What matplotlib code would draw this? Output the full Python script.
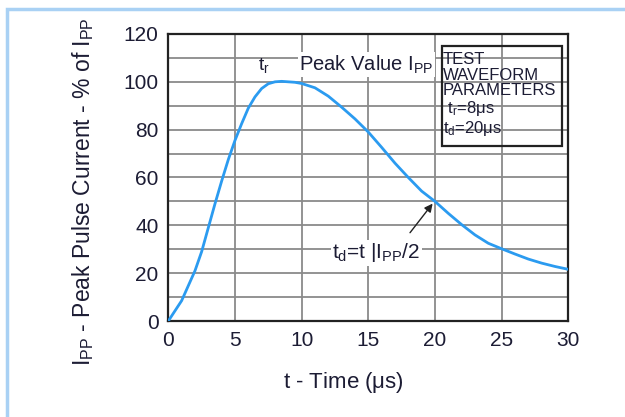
import matplotlib.pyplot as plt
from matplotlib.patches import Rectangle

c_line = '#2b9bf0'
c_txt = '#1c1c34'
c_grid = '#8a8a8a'
c_frame = '#a9d1f4'

plt.rcParams.update({
    'font.family': ['Liberation Sans', 'DejaVu Sans'],
    'mathtext.fontset': 'custom',
    'mathtext.rm': 'Liberation Sans',
    'mathtext.it': 'Liberation Sans',
})

# waveform (t in us, % of Ipp)
t_us = [0, 1, 2, 2.5, 3, 3.5, 4, 4.5, 5, 5.5, 6, 6.5, 7, 7.5, 8, 8.5, 9, 9.5,
        10, 11, 12, 13, 14, 15, 16, 17, 18, 19, 20, 21, 22, 23, 24, 25, 26,
        27, 28, 29, 30]
ipp_pct = [0, 8.5, 21, 29, 39, 49, 58.5, 67.5, 75.5, 82.5, 89, 93.7, 97.2, 99.2,
           100, 100.2, 100, 99.8, 99.3, 97.5, 94, 89.4, 84.5, 79, 72.6, 66, 60,
           54.3, 50, 45, 40.3, 36, 32.5, 30.2, 28, 25.9, 24.2, 22.8, 21.6]

x_ticks = [0, 5, 10, 15, 20, 25, 30]
y_ticks = [0, 20, 40, 60, 80, 100, 120]

fig = plt.figure(figsize=(6.25, 4.17), dpi=100)
fig.patches.append(Rectangle((0.011, -0.1), 1.2, 1.078, transform=fig.transFigure,
                             fill=False, edgecolor=c_frame, lw=2.5))

ax = fig.add_axes([0.2693, 0.2302, 0.640, 0.6883])
ax.set_xlim(0, 30)
ax.set_ylim(0, 120)
ax.set_xticks(x_ticks)
ax.set_yticks(y_ticks)
ax.set_xticks(range(0, 31, 5), minor=True)
ax.set_yticks(range(0, 121, 10), minor=True)
ax.grid(True, which='both', color=c_grid, lw=1.3)
ax.set_axisbelow(True)
for s in ax.spines.values():
    s.set_linewidth(1.6)
    s.set_color('#222222')
ax.tick_params(which='both', length=0, pad=7, labelsize=15, labelcolor=c_txt)

ax.plot(t_us, ipp_pct, color=c_line, lw=2, zorder=3)

ax.set_xlabel(r't - Time ($\mathregular{\mu}$s)', fontsize=16, color=c_txt)
ax.xaxis.set_label_coords(0.4375, -0.17)
ax.set_ylabel(r'$\mathregular{I_{PP}}$ - Peak Pulse Current - % of $\mathregular{I_{PP}}$',
              fontsize=16.5, color=c_txt)
ax.yaxis.set_label_coords(-0.18, 0.45)

ax.text(7.2, 103, r'$\mathregular{t_r}$', fontsize=14, color=c_txt, ha='center', va='bottom')
ax.text(9.8, 102.5, r'Peak Value $\mathregular{I_{PP}}$', fontsize=14.5, color=c_txt,
        ha='left', va='bottom', zorder=4,
        bbox=dict(facecolor='white', edgecolor='none', pad=1))

ax.text(20.6, 112.5, 'TEST\nWAVEFORM\nPARAMETERS\n' r' $\mathregular{t_r}$=8$\mathregular{\mu}$s' '\n'
        r'$\mathregular{t_d}$=20$\mathregular{\mu}$s',
        fontsize=12, color=c_txt, ha='left', va='top', linespacing=1.05, zorder=5)
ax.add_patch(Rectangle((20.55, 73), 9.0, 42, fill=False, edgecolor='#222222',
                       lw=1.6, zorder=5))

ax.annotate('', xy=(19.95, 50), xytext=(18.0, 36),
            arrowprops=dict(arrowstyle='-|>', color='#222222', lw=1, mutation_scale=12), zorder=5)
ax.text(15.6, 28.5, r'$\mathregular{t_d}$=t $|$$\mathregular{I_{PP}}$/2', fontsize=15,
        color=c_txt, ha='center', va='center', zorder=4,
        bbox=dict(facecolor='white', edgecolor='none', pad=1))

fig.savefig('out.png', dpi=100)
